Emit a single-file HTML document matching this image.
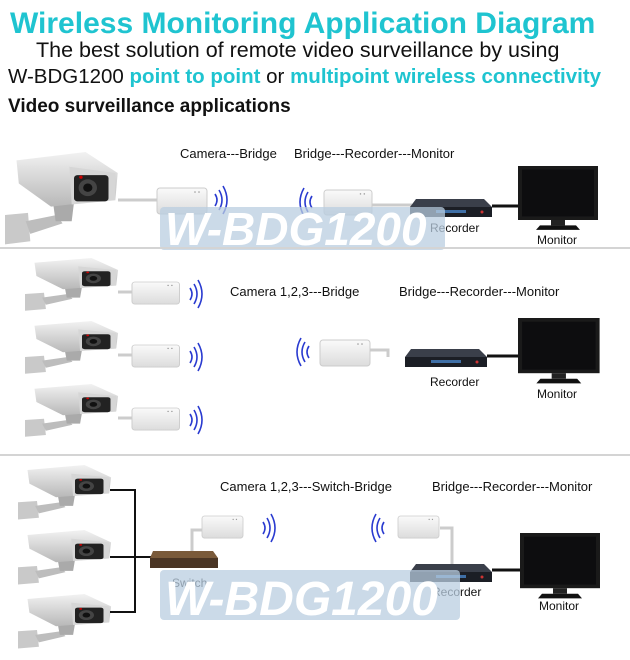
<!DOCTYPE html>
<html><head><meta charset="utf-8"><style>
html,body{margin:0;padding:0;background:#fff;width:630px;height:660px;overflow:hidden}
svg{display:block}
text{font-family:"Liberation Sans",sans-serif}
</style></head><body>
<svg width="630" height="660" viewBox="0 0 630 660" xmlns="http://www.w3.org/2000/svg">
<defs>
<linearGradient id="cg" x1="0" y1="0" x2="0" y2="1"><stop offset="0" stop-color="#f2f2f2"/><stop offset="1" stop-color="#b8b8b8"/></linearGradient>
<linearGradient id="bg" x1="0" y1="0" x2="0" y2="1"><stop offset="0" stop-color="#fafafa"/><stop offset="1" stop-color="#dcdcdc"/></linearGradient>
<g id="cam">
  <path d="M0 60 L20 58 L22 85 L0 88 Z" fill="#c9c9c9"/>
  <path d="M18 66 L45 60 L50 68 L22 78 Z" fill="#bdbdbd"/>
  <path d="M42 50 L60 48 L58 66 L44 66 Z" fill="#aaa"/>
  <path d="M10 8 L70 0 L98 20 L96 45 L40 52 L12 30 Z" fill="url(#cg)"/>
  <path d="M56 14 L96 20 L96 46 L58 50 Z" fill="#d6d6d6"/>
  <rect x="60" y="22" width="30" height="25" rx="3" fill="#222"/>
  <circle cx="72" cy="34" r="8" fill="#444"/>
  <circle cx="72" cy="34" r="4" fill="#111"/>
  <circle cx="66" cy="24" r="1.5" fill="#c00"/>
</g>
<g id="br"><rect x="0" y="0" width="50" height="26" rx="3" fill="url(#bg)" stroke="#ccc"/><circle cx="38" cy="4" r="0.8" fill="#999"/><circle cx="42" cy="4" r="0.8" fill="#999"/></g>
<g id="wr" fill="none" stroke="#2a3bd0" stroke-width="1.6"><path d="M0 6 Q4 12 0 18"/><path d="M4 2 Q10 12 4 22"/><path d="M8 -2 Q16 12 8 26"/></g>
<g id="wl" fill="none" stroke="#2a3bd0" stroke-width="1.6"><path d="M16 6 Q12 12 16 18"/><path d="M12 2 Q6 12 12 22"/><path d="M8 -2 Q0 12 8 26"/></g>
<g id="rec"><path d="M6 0 L74 0 L82 8 L0 8 Z" fill="#3a3f4a"/><rect x="0" y="8" width="82" height="10" fill="#1b1e25"/><rect x="26" y="11" width="30" height="3" fill="#3f6fa6"/><circle cx="72" cy="13" r="1.5" fill="#c33"/></g>
<g id="mon"><rect x="0" y="0" width="80" height="60" fill="#1a1a1a"/><rect x="4" y="4" width="72" height="52" fill="#0d0d0f"/><rect x="33" y="60" width="14" height="6" fill="#222"/><path d="M22 66 L58 66 L62 71 L18 71 Z" fill="#111"/></g>
</defs>

<text x="10" y="33" font-size="30" font-weight="bold" fill="#1fc4d0">Wireless Monitoring Application Diagram</text>
<text x="36" y="57" font-size="21.5" fill="#111">The best solution of remote video surveillance by using</text>
<text x="8" y="83" font-size="20.5" fill="#111">W-BDG1200 <tspan fill="#1fc4d0" font-weight="bold">point to point</tspan> or <tspan fill="#1fc4d0" font-weight="bold">multipoint wireless connectivity</tspan></text>
<text x="8" y="112" font-size="19" font-weight="bold" fill="#111">Video surveillance applications</text>

<!-- panel 1 -->
<text x="180" y="158" font-size="13" fill="#111">Camera---Bridge</text>
<text x="294" y="158" font-size="13" fill="#111">Bridge---Recorder---Monitor</text>
<g transform="translate(5,152) scale(1.15,1.05)"><use href="#cam"/></g>
<path d="M118 200 L157 200" stroke="#ccc" stroke-width="3"/>
<g transform="translate(157,188)"><use href="#br"/></g>
<g transform="translate(215,188)"><use href="#wr"/></g>
<g transform="translate(296,190)"><use href="#wl"/></g>
<g transform="translate(324,190) scale(0.96)"><use href="#br"/></g>
<path d="M372 205 L412 205" stroke="#ccc" stroke-width="3"/>
<g transform="translate(410,199)"><use href="#rec"/></g>
<path d="M492 206 L518 206" stroke="#111" stroke-width="3"/>
<g transform="translate(518,166) scale(1,0.9)"><use href="#mon"/></g>
<text x="430" y="232" font-size="12" fill="#111">Recorder</text>
<text x="537" y="244" font-size="12" fill="#111">Monitor</text>
<rect x="160" y="207" width="285" height="43" rx="4" fill="#b9cde0" opacity="0.75"/>
<text x="165" y="245" font-size="46" font-weight="bold" font-style="italic" fill="#fff">W-BDG1200</text>
<rect x="0" y="247" width="630" height="2" fill="#d4d4d4"/>

<!-- panel 2 -->
<text x="230" y="296" font-size="13" fill="#111">Camera 1,2,3---Bridge</text>
<text x="399" y="296" font-size="13" fill="#111">Bridge---Recorder---Monitor</text>
<g transform="translate(25,258) scale(0.95,0.6)"><use href="#cam"/></g>
<g transform="translate(25,321) scale(0.95,0.6)"><use href="#cam"/></g>
<g transform="translate(25,384) scale(0.95,0.6)"><use href="#cam"/></g>
<path d="M118 292 L132 292 M118 355 L132 355 M118 418 L132 418" stroke="#ccc" stroke-width="3"/>
<g transform="translate(132,282) scale(0.95,0.85)"><use href="#br"/></g>
<g transform="translate(132,345) scale(0.95,0.85)"><use href="#br"/></g>
<g transform="translate(132,408) scale(0.95,0.85)"><use href="#br"/></g>
<g transform="translate(190,282)"><use href="#wr"/></g>
<g transform="translate(190,345)"><use href="#wr"/></g>
<g transform="translate(190,408)"><use href="#wr"/></g>
<g transform="translate(293,340)"><use href="#wl"/></g>
<g transform="translate(320,340)"><use href="#br"/></g>
<path d="M370 350 L388 350 L388 357" stroke="#ccc" stroke-width="3" fill="none"/>
<g transform="translate(405,349)"><use href="#rec"/></g>
<path d="M487 356 L518 356" stroke="#111" stroke-width="3"/>
<g transform="translate(518,318) scale(1.02,0.92)"><use href="#mon"/></g>
<text x="430" y="386" font-size="12" fill="#111">Recorder</text>
<text x="537" y="398" font-size="12" fill="#111">Monitor</text>
<rect x="0" y="454" width="630" height="2" fill="#d4d4d4"/>

<!-- panel 3 -->
<text x="220" y="491" font-size="13" fill="#111">Camera 1,2,3---Switch-Bridge</text>
<text x="432" y="491" font-size="13" fill="#111">Bridge---Recorder---Monitor</text>
<g transform="translate(18,465) scale(0.95,0.62)"><use href="#cam"/></g>
<g transform="translate(18,530) scale(0.95,0.62)"><use href="#cam"/></g>
<g transform="translate(18,594) scale(0.95,0.62)"><use href="#cam"/></g>
<path d="M110 490 L135 490 L135 612 L110 612 M110 557 L152 557" stroke="#111" stroke-width="2" fill="none"/>
<path d="M153 551 L213 551 L218 558 L150 558 Z" fill="#7a5a3a"/>
<rect x="150" y="558" width="68" height="10" fill="#4a3524"/>
<text x="172" y="587" font-size="12" fill="#111">Switch</text>
<path d="M192 551 L192 530 L202 530" stroke="#ccc" stroke-width="3" fill="none"/>
<g transform="translate(202,516) scale(0.82,0.85)"><use href="#br"/></g>
<g transform="translate(263,516)"><use href="#wr"/></g>
<g transform="translate(368,516)"><use href="#wl"/></g>
<g transform="translate(398,516) scale(0.82,0.85)"><use href="#br"/></g>
<path d="M440 528 L452 528 L452 564" stroke="#ccc" stroke-width="3" fill="none"/>
<g transform="translate(410,564)"><use href="#rec"/></g>
<path d="M492 570 L520 570" stroke="#111" stroke-width="3"/>
<g transform="translate(520,533) scale(1,0.92)"><use href="#mon"/></g>
<text x="432" y="596" font-size="12" fill="#111">Recorder</text>
<text x="539" y="610" font-size="12" fill="#111">Monitor</text>
<rect x="160" y="570" width="300" height="50" rx="4" fill="#b9cde0" opacity="0.75"/>
<text x="165" y="615" font-size="48" font-weight="bold" font-style="italic" fill="#fff">W-BDG1200</text>
</svg>
</body></html>
